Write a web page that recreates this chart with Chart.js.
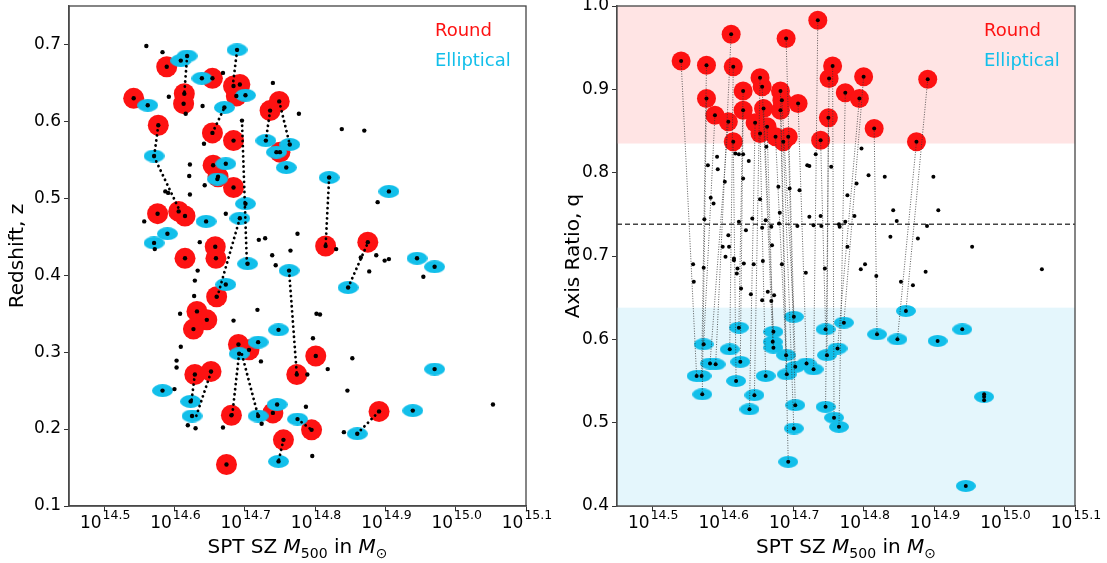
<!DOCTYPE html>
<html>
<head>
<meta charset="utf-8">
<script src="https://cdn.jsdelivr.net/npm/chart.js@4.4.1/dist/chart.umd.min.js"></script>
<style>
  body { margin: 0; background: #fff; }
  #wrap { position: relative; width: 1107px; height: 563px; }
  canvas { position: absolute; top: 0; }
  #left { left: 0; }
  #right { left: 553px; }
</style>
</head>
<body>
<div id="wrap">
  <canvas id="left" width="553" height="563"></canvas>
  <canvas id="right" width="554" height="563"></canvas>
</div>
<script>
// axis ticks (log10 of mass)
var xTicks = [14.5, 14.6, 14.7, 14.8, 14.9, 15.0, 15.1];
var zTicks = [0.1, 0.2, 0.3, 0.4, 0.5, 0.6, 0.7];
var qTicks = [0.4, 0.5, 0.6, 0.7, 0.8, 0.9, 1.0];

// left panel: redshift vs mass
var roundZ = [
  [14.589,0.671],[14.542,0.630],[14.654,0.656],[14.614,0.636],[14.613,0.623],[14.684,0.646],[14.693,0.648],
  [14.688,0.633],[14.577,0.595],[14.654,0.585],[14.684,0.575],[14.736,0.614],[14.749,0.626],[14.750,0.560],
  [14.655,0.543],[14.662,0.528],[14.684,0.514],[14.576,0.480],[14.606,0.483],[14.615,0.477],[14.615,0.422],
  [14.658,0.437],[14.659,0.422],[14.660,0.372],[14.632,0.353],[14.646,0.342],[14.627,0.330],[14.691,0.310],
  [14.706,0.303],[14.629,0.271],[14.652,0.275],[14.681,0.218],[14.740,0.221],[14.755,0.186],[14.674,0.154],
  [14.801,0.295],[14.774,0.271],[14.795,0.199],[14.891,0.223],[14.815,0.438],[14.875,0.443]
];
var ellipticalZ = [
  [14.689,0.693],[14.618,0.685],[14.609,0.679],[14.639,0.656],[14.701,0.634],[14.562,0.621],[14.671,0.618],
  [14.571,0.555],[14.730,0.575],[14.764,0.570],[14.745,0.560],[14.759,0.540],[14.673,0.545],[14.661,0.525],
  [14.701,0.493],[14.693,0.474],[14.645,0.470],[14.590,0.454],[14.571,0.442],[14.704,0.415],[14.763,0.406],
  [14.673,0.388],[14.748,0.329],[14.719,0.313],[14.692,0.298],[14.583,0.250],[14.623,0.236],[14.625,0.217],
  [14.719,0.217],[14.746,0.232],[14.775,0.213],[14.748,0.158],[14.820,0.527],[14.905,0.509],[14.945,0.422],
  [14.970,0.411],[14.847,0.384],[14.970,0.278],[14.939,0.224],[14.860,0.194]
];
var otherZ = [
  [14.560,0.698],[14.583,0.690],[14.669,0.663],[14.592,0.632],[14.640,0.620],[14.616,0.610],[14.740,0.650],
  [14.777,0.610],[14.642,0.571],[14.696,0.601],[14.622,0.544],[14.621,0.529],[14.643,0.517],[14.622,0.505],
  [14.587,0.509],[14.591,0.507],[14.557,0.470],[14.673,0.480],[14.572,0.434],[14.636,0.443],[14.720,0.446],
  [14.729,0.448],[14.775,0.454],[14.765,0.432],[14.739,0.426],[14.633,0.406],[14.629,0.393],[14.628,0.373],
  [14.608,0.350],[14.609,0.307],[14.603,0.289],[14.603,0.280],[14.600,0.252],[14.684,0.341],[14.718,0.355],
  [14.723,0.288],[14.744,0.413],[14.619,0.205],[14.630,0.201],[14.669,0.202],[14.724,0.207],[14.787,0.229],
  [14.838,0.590],[14.870,0.588],[14.889,0.495],[14.830,0.434],[14.865,0.423],[14.887,0.426],[14.905,0.421],
  [14.899,0.419],[14.877,0.405],[14.954,0.398],[14.802,0.350],[14.807,0.349],[14.797,0.318],[14.853,0.292],
  [14.818,0.278],[14.789,0.271],[14.846,0.250],[15.053,0.232],[14.841,0.196],[14.796,0.165]
];
// dotted links [x1, z1, x2, z2]
var linksZ = [
  [14.689,0.692,14.683,0.647],[14.618,0.685,14.614,0.636],[14.577,0.595,14.571,0.554],[14.571,0.554,14.608,0.483],
  [14.696,0.601,14.703,0.415],[14.693,0.474,14.661,0.372],[14.692,0.298,14.682,0.217],[14.696,0.297,14.719,0.217],
  [14.629,0.271,14.624,0.235],[14.652,0.274,14.631,0.217],[14.763,0.406,14.774,0.271],[14.847,0.384,14.875,0.442],
  [14.860,0.194,14.891,0.223],[14.775,0.213,14.795,0.199],[14.755,0.186,14.748,0.158],[14.820,0.527,14.815,0.438],
  [14.736,0.614,14.730,0.575],[14.749,0.626,14.764,0.570],[14.654,0.585,14.671,0.618]
];

// right panel: axis ratio vs mass (round[i] is linked to elliptical[i])
var roundQ = [
  [14.541,0.934],[14.577,0.929],[14.577,0.889],[14.589,0.869],[14.608,0.861],[14.612,0.966],[14.615,0.927],
  [14.615,0.837],[14.629,0.898],[14.629,0.875],[14.646,0.860],[14.653,0.914],[14.653,0.847],[14.656,0.903],
  [14.658,0.877],[14.663,0.855],[14.675,0.843],[14.682,0.898],[14.682,0.875],[14.684,0.887],[14.686,0.837],
  [14.690,0.961],[14.693,0.843],[14.707,0.883],[14.735,0.983],[14.739,0.839],[14.750,0.866],[14.751,0.913],
  [14.756,0.928],[14.774,0.896],[14.794,0.889],[14.800,0.915],[14.815,0.853],[14.875,0.837],[14.891,0.912]
];
var ellipticalQ = [
  [14.563,0.556],[14.570,0.556],[14.571,0.534],[14.573,0.594],[14.582,0.571],[14.590,0.570],[14.610,0.588],
  [14.619,0.550],[14.623,0.614],[14.625,0.573],[14.638,0.516],[14.645,0.533],[14.661,0.556],[14.671,0.597],
  [14.672,0.609],[14.672,0.590],[14.690,0.581],[14.691,0.558],[14.693,0.453],[14.701,0.627],[14.701,0.493],
  [14.703,0.567],[14.703,0.521],[14.719,0.571],[14.729,0.564],[14.746,0.612],[14.748,0.581],[14.746,0.519],
  [14.758,0.506],[14.765,0.495],[14.763,0.589],[14.772,0.620],[14.819,0.606],[14.848,0.600],[14.860,0.634],
  [14.905,0.598],[14.940,0.612],[14.971,0.531],[14.945,0.424]
];
var otherQ = [
  [14.579,0.809],[14.592,0.819],[14.593,0.804],[14.583,0.770],[14.587,0.763],[14.603,0.789],[14.618,0.823],
  [14.623,0.822],[14.629,0.822],[14.629,0.793],[14.637,0.814],[14.574,0.744],[14.623,0.741],[14.633,0.731],
  [14.642,0.745],[14.608,0.725],[14.609,0.711],[14.600,0.711],[14.604,0.699],[14.616,0.697],[14.653,0.768],
  [14.656,0.734],[14.661,0.743],[14.662,0.831],[14.669,0.735],[14.670,0.713],[14.679,0.783],[14.681,0.752],
  [14.680,0.739],[14.695,0.781],[14.706,0.736],[14.709,0.779],[14.723,0.747],[14.720,0.809],[14.723,0.808],
  [14.732,0.822],[14.739,0.748],[14.740,0.736],[14.729,0.737],[14.754,0.807],[14.765,0.738],[14.774,0.741],
  [14.777,0.773],[14.777,0.711],[14.797,0.829],[14.807,0.797],[14.830,0.795],[14.790,0.787],[14.787,0.748],
  [14.766,0.735],[14.842,0.755],[14.847,0.742],[14.838,0.723],[14.877,0.721],[14.890,0.736],[14.899,0.795],
  [14.906,0.755],[14.954,0.711],[14.796,0.684],[14.802,0.690],[14.818,0.676],[14.853,0.669],[14.870,0.665],
  [14.888,0.681],[15.053,0.684],[14.558,0.690],[14.559,0.669],[14.573,0.686],[14.616,0.695],[14.621,0.685],
  [14.620,0.679],[14.626,0.661],[14.630,0.691],[14.640,0.654],[14.644,0.690],[14.656,0.647],[14.657,0.694],
  [14.664,0.657],[14.669,0.646],[14.673,0.653],[14.684,0.690],[14.718,0.680],[14.745,0.685],
  [14.971,0.534],[14.971,0.527]
];
var qRoundMin = 0.835;   // top of "round" region
var qEllMax = 0.638;     // top of "elliptical" region
var qMean = 0.738;       // dashed line

var RED = '#fd1212';
var BLUE = '#12bfea';
var FONT = '"DejaVu Sans"';

function pts(arr) { return arr.map(function(p) { return {x: p[0], y: p[1]}; }); }

// segments separated by gaps (y: null)
function segPts(segs) {
  var out = [];
  segs.forEach(function(s) {
    out.push({x: s[0], y: s[1]}, {x: s[2], y: s[3]}, {x: s[2], y: null});
  });
  return out;
}

function ellipseImg(w, h, color) {
  var c = document.createElement('canvas');
  c.width = w; c.height = h;
  var g = c.getContext('2d');
  g.fillStyle = color;
  g.beginPath();
  g.ellipse(w / 2, h / 2, w / 2, h / 2, 0, 0, 2 * Math.PI);
  g.fill();
  return c;
}

// frame, 10^x tick labels, mass title and the Round/Elliptical labels
var decorPlugin = {
  id: 'decor',
  afterDraw: function(chart) {
    var ctx = chart.ctx, a = chart.chartArea, xs = chart.scales.x;
    ctx.save();
    ctx.strokeStyle = '#444';
    ctx.lineWidth = 1.3;
    ctx.strokeRect(a.left, a.top, a.right - a.left, a.bottom - a.top);

    ctx.fillStyle = '#000';
    ctx.textBaseline = 'alphabetic';
    ctx.textAlign = 'left';
    xTicks.forEach(function(v) {
      var exp = v.toFixed(1);
      ctx.font = '17px ' + FONT;
      var w1 = ctx.measureText('10').width;
      ctx.font = '12.5px ' + FONT;
      var w2 = ctx.measureText(exp).width;
      var x0 = xs.getPixelForValue(v) - (w1 + w2 + 1) / 2 + 1;
      ctx.font = '17px ' + FONT;
      ctx.fillText('10', x0, a.bottom + 22);
      ctx.font = '12.5px ' + FONT;
      ctx.fillText(exp, x0 + w1 + 1, a.bottom + 13);
    });

    var parts = [
      {t: 'SPT SZ ', f: '20px ' + FONT, dy: 0},
      {t: 'M', f: 'italic 20px ' + FONT, dy: 0},
      {t: '500', f: '14px ' + FONT, dy: 5},
      {t: ' in ', f: '20px ' + FONT, dy: 0},
      {t: 'M', f: 'italic 20px ' + FONT, dy: 0},
      {t: '\u2299', f: '14px ' + FONT, dy: 5}
    ];
    var total = 0;
    parts.forEach(function(p) { ctx.font = p.f; p.w = ctx.measureText(p.t).width; total += p.w; });
    var x = (a.left + a.right) / 2 - total / 2;
    parts.forEach(function(p) {
      ctx.font = p.f;
      ctx.fillText(p.t, x, a.bottom + 47 + p.dy);
      x += p.w;
    });

    ctx.font = '18px ' + FONT;
    ctx.textBaseline = 'middle';
    ctx.fillStyle = RED;
    ctx.fillText('Round', a.right - 91, a.top + 25);
    ctx.fillStyle = BLUE;
    ctx.fillText('Elliptical', a.right - 91, a.top + 55);
    ctx.restore();
  }
};

// shaded q regions on the right panel
var bandPlugin = {
  id: 'bands',
  beforeDatasetsDraw: function(chart) {
    var ctx = chart.ctx, a = chart.chartArea, ys = chart.scales.y;
    var yr = ys.getPixelForValue(qRoundMin), ye = ys.getPixelForValue(qEllMax);
    ctx.save();
    ctx.fillStyle = '#ffe4e4';
    ctx.fillRect(a.left, a.top, a.right - a.left, yr - a.top);
    ctx.fillStyle = '#e4f6fc';
    ctx.fillRect(a.left, ye, a.right - a.left, a.bottom - ye);
    ctx.restore();
  }
};

function makeChart(id, cfg) {
  return new Chart(document.getElementById(id), {
    type: 'scatter',
    data: { datasets: cfg.datasets },
    options: {
      responsive: false,
      animation: false,
      layout: { autoPadding: false, padding: { left: 0, top: 6, right: cfg.padRight, bottom: 0 } },
      plugins: { legend: { display: false }, tooltip: { enabled: false } },
      scales: {
        x: {
          type: 'linear', min: 14.45, max: 15.1,
          afterBuildTicks: function(ax) { ax.ticks = xTicks.map(function(v) { return {value: v}; }); },
          afterFit: function(ax) { ax.height = 57; ax.paddingLeft = 0; ax.paddingRight = 0; },
          ticks: { callback: function() { return ''; } },
          grid: { drawOnChartArea: false, tickLength: 5, color: '#333' },
          border: { color: '#555', width: 1.5 }
        },
        y: {
          type: 'linear', min: cfg.yMin, max: cfg.yMax,
          afterBuildTicks: function(ax) { ax.ticks = cfg.yTicks.map(function(v) { return {value: v}; }); },
          afterFit: function(ax) { ax.width = cfg.yWidth; ax.paddingTop = 0; ax.paddingBottom = 0; },
          ticks: {
            callback: function(v) { return Number(v).toFixed(1); },
            color: '#000', font: { family: 'DejaVu Sans', size: 17, lineHeight: 0.6 }, padding: 3
          },
          grid: { drawOnChartArea: false, tickLength: 5, color: '#333' },
          border: { color: '#555', width: 1.5 },
          title: {
            display: true, text: cfg.yTitle, color: '#000',
            font: { family: 'DejaVu Sans', size: 20 }, padding: { top: cfg.titlePad, bottom: 0 }
          }
        }
      }
    },
    plugins: cfg.plugins
  });
}

// left: redshift
makeChart('left', {
  yMin: 0.1, yMax: 0.75, yTicks: zTicks, yTitle: 'Redshift, z', yWidth: 69, titlePad: 6, padRight: 27,
  plugins: [decorPlugin],
  datasets: [
    { data: pts(otherZ.concat(roundZ, ellipticalZ)), pointRadius: 2.2, backgroundColor: '#000', borderWidth: 0, order: 0 },
    { data: segPts(linksZ), showLine: true, spanGaps: false, pointRadius: 0, borderColor: '#000',
      borderWidth: 2.8, borderDash: [0.1, 5], borderCapStyle: 'round', order: 1 },
    { data: pts(ellipticalZ), pointStyle: ellipseImg(21, 13, BLUE), order: 2 },
    { data: pts(roundZ), pointRadius: 10.5, backgroundColor: RED, borderWidth: 0, order: 3 }
  ]
});

// right: axis ratio
var linksQ = roundQ.map(function(r, i) { return [r[0], r[1], ellipticalQ[i][0], ellipticalQ[i][1]]; });

makeChart('right', {
  yMin: 0.4, yMax: 1.0, yTicks: qTicks, yTitle: 'Axis Ratio, q', yWidth: 64, titlePad: 9, padRight: 32,
  plugins: [bandPlugin, decorPlugin],
  datasets: [
    { data: pts(otherQ.concat(roundQ, ellipticalQ)), pointRadius: 2, backgroundColor: '#000', borderWidth: 0, order: 0 },
    { data: segPts(linksQ), showLine: true, spanGaps: false, pointRadius: 0, borderColor: '#333',
      borderWidth: 0.8, borderDash: [1, 1.5], order: 1 },
    { data: pts(ellipticalQ), pointStyle: ellipseImg(20, 12, BLUE), order: 2 },
    { data: pts(roundQ), pointRadius: 9.5, backgroundColor: RED, borderWidth: 0, order: 3 },
    { data: [{x: 14.45, y: qMean}, {x: 15.1, y: qMean}], showLine: true, pointRadius: 0,
      borderColor: '#444', borderWidth: 1.5, borderDash: [5, 3], order: 4 }
  ]
});
</script>
</body>
</html>
